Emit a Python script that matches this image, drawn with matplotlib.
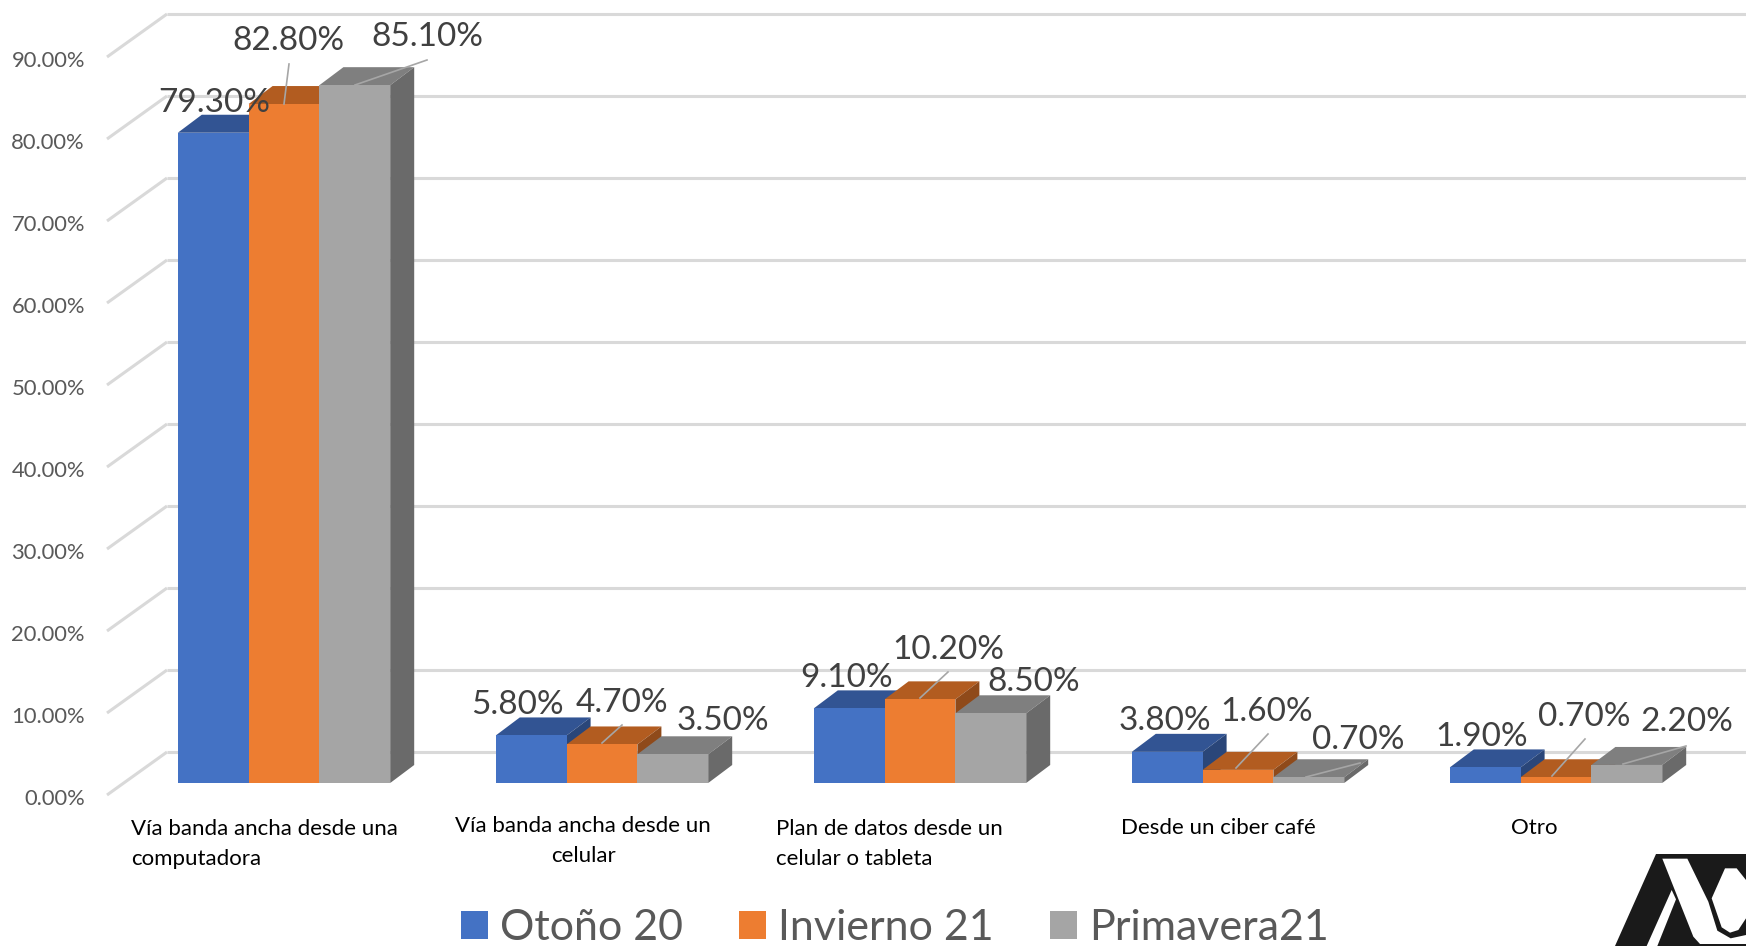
import numpy as np
import matplotlib
matplotlib.use('Agg')
from matplotlib import pyplot as plt
from matplotlib.patches import Polygon
from matplotlib.transforms import ScaledTranslation

plt.rcParams['font.family'] = ['Lato', 'DejaVu Sans']

# data
categories = ['Vía banda ancha desde una\ncomputadora',
              'Vía banda ancha desde un\ncelular',
              'Plan de datos desde un\ncelular o tableta',
              'Desde un ciber café',
              'Otro']
otono = [79.3, 5.8, 9.1, 3.8, 1.9]
invierno = [82.8, 4.7, 10.2, 1.6, 0.7]
primavera = [85.1, 3.5, 8.5, 0.7, 2.2]
series_names = ['Otoño 20', 'Invierno 21', 'Primavera21']
ticks = [0, 10, 20, 30, 40, 50, 60, 70, 80, 90]

W, H = 1746, 946
# pixel scale of the chart
BAR_PX = 70.8
VAL_PX = 8.2
GROUP_STEP = 318 / BAR_PX
X0_PX = 284   # centre of first group
Y0_PX = 783   # bars baseline
AX_LEFT = 100

DX = 24 / BAR_PX
DY = 18 / VAL_PX

series = [otono, invierno, primavera]
front_cols = ['#4472C4', '#ED7D31', '#A5A5A5']
top_cols = ['#325493', '#B25C20', '#7F7F7F']
side_cols = ['#2A4679', '#8F4A1A', '#6A6A6A']
grid_col = '#D9D9D9'
leader_col = '#A6A6A6'


def pixels(x, y):
    """Turn reference pixels into data coordinates."""
    return (x - X0_PX) / BAR_PX, (Y0_PX - y) / VAL_PX


def logo_pixels(x, y):
    """Logo outline was traced on a 3x crop starting at (1600, 840)."""
    return pixels(1600 + x / 3, 840 + y / 3)


fig = plt.figure(figsize=(W / 100, H / 100), dpi=100)
ax = fig.add_axes([AX_LEFT / W, 0, 1 - AX_LEFT / W, 1])
ax.set_xlim((AX_LEFT - X0_PX) / BAR_PX, (W - X0_PX) / BAR_PX)
ax.set_ylim((Y0_PX - H) / VAL_PX, Y0_PX / VAL_PX)
for s in ax.spines.values():
    s.set_visible(False)

# walls: gridlines on the back, diagonals on the side
wall_x0 = pixels(107, 0)[0]
wall_x1 = pixels(167, 0)[0]
back = 31 / VAL_PX
front = -12 / VAL_PX
for t in ticks:
    ax.plot([wall_x0, wall_x1], [t + front, t + back], color=grid_col, lw=2.2,
            solid_capstyle='butt', zorder=1)
    ax.plot([wall_x1, ax.get_xlim()[1]], [t + back, t + back], color=grid_col, lw=2.2,
            solid_capstyle='butt', zorder=1)

# bars, painted left to right so the next bar hides the previous side
handles = []
zorder = 2
for j, values in enumerate(series):
    x = np.arange(len(values)) * GROUP_STEP + (j - 1)
    for xi, v in zip(x, values):
        l, r = xi - 0.5, xi + 0.5
        ax.add_patch(Polygon([(l, v), (r, v), (r + DX, v + DY), (l + DX, v + DY)],
                             facecolor=top_cols[j], edgecolor='none', zorder=zorder))
        ax.add_patch(Polygon([(r, 0), (r + DX, DY), (r + DX, v + DY), (r, v)],
                             facecolor=side_cols[j], edgecolor='none', zorder=zorder))
    bars = ax.bar(x, values, width=1.0, color=front_cols[j], zorder=zorder + 1,
                  label=series_names[j])
    handles.append(bars)
    zorder += 2

# y axis labels sit on the front edge of the side wall
ax.set_yticks(ticks)
ax.set_yticklabels(['%.2f%%' % t for t in ticks])
ax.set_xticks([])
ax.tick_params(axis='y', length=0, pad=10.8, labelsize=15.8, labelcolor='#595959')
shift = ScaledTranslation(0, -13.5 / 100, fig.dpi_scale_trans)
for label in ax.get_yticklabels():
    label.set_transform(label.get_transform() + shift)

# data labels, placed by hand in the original
label_pos = [[(214, 103), (517, 705), (847, 678), (1165, 721), (1482, 737)],
             [(288, 41), (622, 703), (948, 650), (1267, 712), (1584, 717)],
             [(427, 37), (723, 721), (1034, 682), (1358, 740), (1687, 722)]]
for j, values in enumerate(series):
    for v, (px, py) in zip(values, label_pos[j]):
        ax.text(*pixels(px, py), '%.2f%%' % v, fontsize=24, color='#404040',
                ha='center', va='center', zorder=20)

leaders = [((289, 64), (284, 104)), ((427, 60), (355, 85)),
           ((622, 725), (602, 743)), ((948, 672), (920, 698)),
           ((1268, 734), (1236, 768)), ((1360, 763), (1306, 777)),
           ((1585, 739), (1552, 776)), ((1686, 746), (1623, 764))]
for a, b in leaders:
    pa, pb = pixels(*a), pixels(*b)
    ax.plot([pa[0], pb[0]], [pa[1], pb[1]], color=leader_col, lw=1.2, zorder=19)

# category labels
cat_pos = [(131, 844, 'left'), (583, 841, 'center'), (776, 844, 'left'),
           (1121, 828, 'left'), (1534, 828, 'center')]
for name, (px, py, ha) in zip(categories, cat_pos):
    ax.text(*pixels(px, py), name, fontsize=16, color='black', ha=ha, va='center',
            linespacing=1.65, multialignment=ha)

ax.legend(handles=handles, loc='lower left', bbox_to_anchor=(461 / W, -1 / H),
          bbox_transform=fig.transFigure, ncol=3, frameon=False, fontsize=31,
          labelcolor='#595959', handlelength=0.63, handleheight=0.63,
          handletextpad=0.28, columnspacing=1.3, borderpad=0, borderaxespad=0)

# logo in the bottom right corner
logo_black = [(168, 42), (438, 42), (438, 318), (45, 318)]
logo_white = [[(187, 56), (262, 56), (325, 185), (352, 272), (392, 295), (438, 285),
               (438, 312), (300, 312), (280, 290)],
              [(438, 120), (410, 85), (375, 85), (335, 175), (365, 262), (390, 278),
               (415, 270), (438, 235)],
              [(215, 150), (228, 178), (172, 318), (140, 318)]]
ax.add_patch(Polygon([logo_pixels(*p) for p in logo_black], facecolor='#1A1A1A',
                     edgecolor='none', zorder=5, clip_on=False))
for shape in logo_white:
    ax.add_patch(Polygon([logo_pixels(*p) for p in shape], facecolor='white',
                         edgecolor='none', zorder=6, clip_on=False))

fig.savefig('out.png', dpi=100)
